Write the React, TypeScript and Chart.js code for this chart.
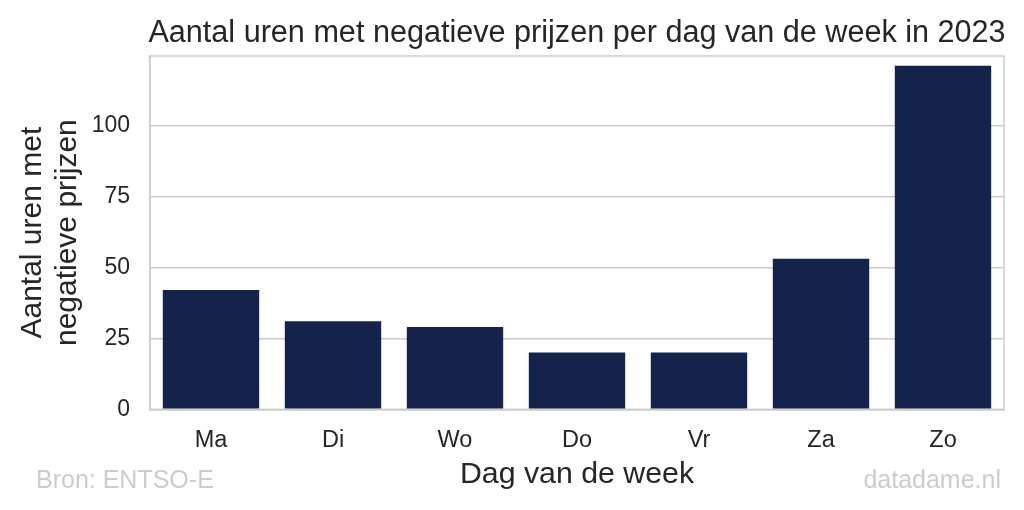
import React, { useEffect, useRef } from "react";
import { Chart, registerables } from "chart.js";

Chart.register(...registerables);

const days = ["Ma", "Di", "Wo", "Do", "Vr", "Za", "Zo"];
const hours = [42, 31, 29, 20, 20, 53, 121];
const yTicks = [0, 25, 50, 75, 100];
const yMax = 124.4;
const titleText = "Aantal uren met negatieve prijzen per dag van de week in 2023";
const xTitle = "Dag van de week";
const yTitle = ["Aantal uren met", "negatieve prijzen"];
const sourceText = "Bron: ENTSO-E";
const creditText = "datadame.nl";

const FONT = "'Liberation Sans', Arial, Helvetica, sans-serif";
const TEXT = "#262626";
const GRID = "#cccccc";
const BAR = "#13234b";

const framePlugin = {
  id: "frame",
  beforeDatasetsDraw(chart: any) {
    const { ctx, chartArea } = chart;
    ctx.save();
    ctx.strokeStyle = GRID;
    ctx.lineWidth = 1.5;
    ctx.strokeRect(chartArea.left, chartArea.top, chartArea.right - chartArea.left, chartArea.bottom - chartArea.top);
    ctx.restore();
  },
  afterDraw(chart: any) {
    const { ctx, chartArea, width } = chart;
    ctx.save();
    ctx.fillStyle = TEXT;
    ctx.font = `30.6px ${FONT}`;
    ctx.textAlign = "center";
    ctx.textBaseline = "alphabetic";
    ctx.fillText(titleText, (chartArea.left + chartArea.right) / 2, 42);
    ctx.fillStyle = "#cccccc";
    ctx.font = `25px ${FONT}`;
    ctx.textAlign = "left";
    ctx.fillText(sourceText, 36, 488);
    ctx.textAlign = "right";
    ctx.fillText(creditText, width - 23, 488);
    ctx.restore();
  },
};

export default function App() {
  const ref = useRef<HTMLCanvasElement | null>(null);
  useEffect(() => {
    if (!ref.current) return;
    const chart = new Chart(ref.current, {
      type: "bar",
      data: {
        labels: days,
        datasets: [
          {
            data: hours,
            backgroundColor: BAR,
            borderWidth: 0,
            categoryPercentage: 0.79,
            barPercentage: 1,
          },
        ],
      },
      options: {
        animation: false,
        responsive: false,
        devicePixelRatio: 1,
        layout: { padding: { top: 56, right: 20, left: 0, bottom: 0 } },
        plugins: { legend: { display: false }, tooltip: { enabled: false }, title: { display: false } },
        scales: {
          x: {
            grid: { display: false, drawTicks: false },
            border: { display: true, color: GRID, width: 1.5 },
            ticks: { color: TEXT, font: { family: FONT, size: 23.5 }, padding: 17 },
            title: {
              display: true,
              text: xTitle,
              color: TEXT,
              font: { family: FONT, size: 30.3, lineHeight: 1.2 },
              padding: { top: 0, bottom: 17 },
            },
            afterFit(scale: any) {
              scale.height = 100.7;
            },
          },
          y: {
            min: 0,
            max: yMax,
            grid: { color: GRID, lineWidth: 1.5, drawTicks: false },
            border: { display: true, color: GRID, width: 1.5 },
            ticks: { color: TEXT, font: { family: FONT, size: 23 }, padding: 20 },
            afterBuildTicks(scale: any) {
              scale.ticks = yTicks.map((v) => ({ value: v }));
            },
            title: {
              display: true,
              text: yTitle,
              color: TEXT,
              font: { family: FONT, size: 30, lineHeight: 1.18 },
              padding: { top: 15, bottom: 0 },
            },
            afterFit(scale: any) {
              scale.width = 150;
            },
          },
        },
      },
      plugins: [framePlugin],
    });
    return () => chart.destroy();
  }, []);
  return (
    <div style={{ position: "absolute", left: 0, top: 0, width: 1024, height: 510, background: "#fff" }}>
      <canvas ref={ref} width={1024} height={510} style={{ display: "block" }} />
    </div>
  );
}
